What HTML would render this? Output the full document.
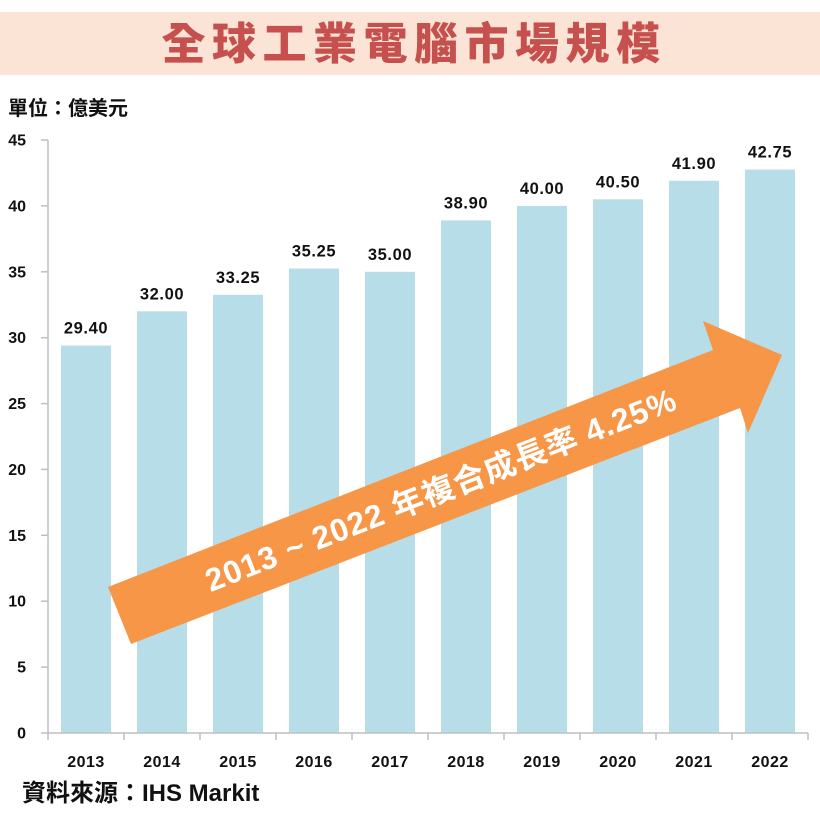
<!DOCTYPE html>
<html>
<head>
<meta charset="utf-8">
<style>
  html,body{margin:0;padding:0;background:#fff;}
  svg{display:block;}
  text{font-family:"Liberation Sans","Noto Sans CJK TC",sans-serif;font-weight:bold;}
</style>
</head>
<body>
<svg width="820" height="820" viewBox="0 0 820 820" xmlns="http://www.w3.org/2000/svg">
  <rect x="0" y="0" width="820" height="820" fill="#ffffff"/>
  <!-- title band -->
  <rect x="0" y="12" width="820" height="63" fill="#fbe4d6"/>
  <text x="414" y="59" text-anchor="middle" font-size="44" fill="#c5504e" letter-spacing="6.5" style="font-family:'Noto Sans CJK TC','Noto Sans CJK SC',sans-serif;font-weight:900;">全球工業電腦市場規模</text>

  <!-- unit -->
  <text x="8" y="115" font-size="20" fill="#111">單位：億美元</text>

  <!-- bars -->
  <g fill="#b6dde8">
    <rect x="61" y="345.6" width="50" height="387.4"/>
    <rect x="137" y="311.3" width="50" height="421.7"/>
    <rect x="213" y="294.8" width="50" height="438.2"/>
    <rect x="289" y="268.5" width="50" height="464.5"/>
    <rect x="365" y="271.8" width="50" height="461.2"/>
    <rect x="441" y="220.4" width="50" height="512.6"/>
    <rect x="517" y="205.9" width="50" height="527.1"/>
    <rect x="593" y="199.3" width="50" height="533.7"/>
    <rect x="669" y="180.8" width="50" height="552.2"/>
    <rect x="745" y="169.6" width="50" height="563.4"/>
  </g>

  <!-- axes -->
  <g stroke="#bfbfbf" stroke-width="1.5" fill="none">
    <line x1="48" y1="140" x2="48" y2="733"/>
    <line x1="41" y1="733" x2="808" y2="733"/>
    <line x1="41" y1="140" x2="48" y2="140"/>
    <line x1="41" y1="205.9" x2="48" y2="205.9"/>
    <line x1="41" y1="271.8" x2="48" y2="271.8"/>
    <line x1="41" y1="337.7" x2="48" y2="337.7"/>
    <line x1="41" y1="403.6" x2="48" y2="403.6"/>
    <line x1="41" y1="469.4" x2="48" y2="469.4"/>
    <line x1="41" y1="535.3" x2="48" y2="535.3"/>
    <line x1="41" y1="601.2" x2="48" y2="601.2"/>
    <line x1="41" y1="667.1" x2="48" y2="667.1"/>
    <line x1="48" y1="733" x2="48" y2="740"/>
    <line x1="124" y1="733" x2="124" y2="740"/>
    <line x1="200" y1="733" x2="200" y2="740"/>
    <line x1="276" y1="733" x2="276" y2="740"/>
    <line x1="352" y1="733" x2="352" y2="740"/>
    <line x1="428" y1="733" x2="428" y2="740"/>
    <line x1="504" y1="733" x2="504" y2="740"/>
    <line x1="580" y1="733" x2="580" y2="740"/>
    <line x1="656" y1="733" x2="656" y2="740"/>
    <line x1="732" y1="733" x2="732" y2="740"/>
    <line x1="808" y1="733" x2="808" y2="740"/>
  </g>

  <!-- y labels -->
  <g font-size="16" fill="#111" text-anchor="end">
    <text x="26" y="145.5">45</text>
    <text x="26" y="211.4">40</text>
    <text x="26" y="277.3">35</text>
    <text x="26" y="343.2">30</text>
    <text x="26" y="409.1">25</text>
    <text x="26" y="474.9">20</text>
    <text x="26" y="540.8">15</text>
    <text x="26" y="606.7">10</text>
    <text x="26" y="672.6">5</text>
    <text x="26" y="738.5">0</text>
  </g>

  <!-- value labels -->
  <g font-size="16.5" fill="#111" text-anchor="middle" letter-spacing="0.6">
    <text x="86" y="333.6">29.40</text>
    <text x="162" y="299.3">32.00</text>
    <text x="238" y="282.8">33.25</text>
    <text x="314" y="256.5">35.25</text>
    <text x="390" y="259.8">35.00</text>
    <text x="466" y="208.4">38.90</text>
    <text x="542" y="193.9">40.00</text>
    <text x="618" y="187.3">40.50</text>
    <text x="694" y="168.8">41.90</text>
    <text x="770" y="157.6">42.75</text>
  </g>

  <!-- year labels -->
  <g font-size="16" fill="#111" text-anchor="middle" letter-spacing="0.5">
    <text x="86" y="767">2013</text>
    <text x="162" y="767">2014</text>
    <text x="238" y="767">2015</text>
    <text x="314" y="767">2016</text>
    <text x="390" y="767">2017</text>
    <text x="466" y="767">2018</text>
    <text x="542" y="767">2019</text>
    <text x="618" y="767">2020</text>
    <text x="694" y="767">2021</text>
    <text x="770" y="767">2022</text>
  </g>

  <!-- arrow -->
  <polygon points="108,587 713,350 703,321 782,355 748,433 740,408 131,644" fill="#f79646"/>
  <g transform="translate(441,490) rotate(-21.4)">
    <text x="0" y="11" font-size="32" fill="#ffffff" text-anchor="middle" letter-spacing="1">2013 ~ 2022 年複合成長率 4.25%</text>
  </g>

  <!-- source -->
  <text x="22" y="801" font-size="24" fill="#111">資料來源：IHS Markit</text>
</svg>
</body>
</html>
